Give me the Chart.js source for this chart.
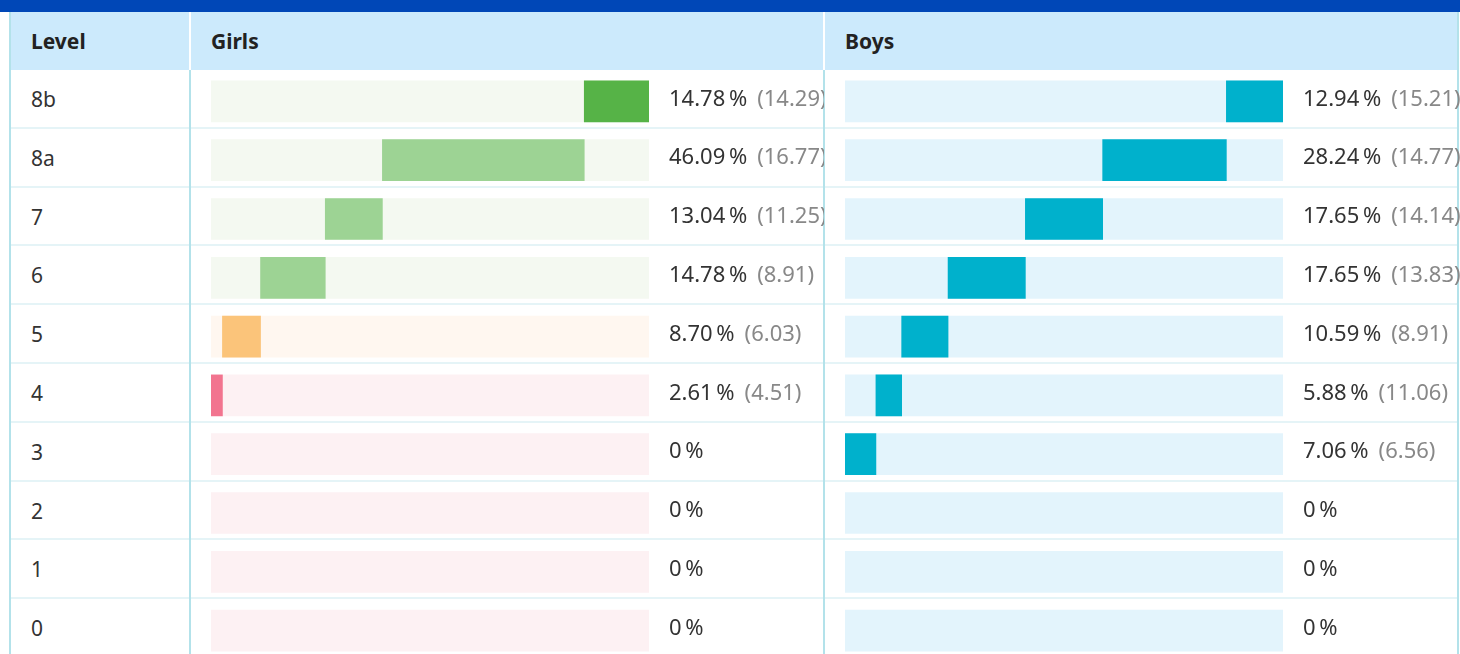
<!DOCTYPE html>
<html>
<head>
<meta charset="utf-8">
<script src="https://cdn.jsdelivr.net/npm/chart.js@4"></script>
<style>
  body { margin: 0; width: 1460px; height: 654px; overflow: hidden; background: #fff; font-family: 'Noto Sans', sans-serif; position: relative; }
  .topbar { position: absolute; left: 0; top: 0; width: 1460px; height: 12px; background: #0047b7; }
  .header { position: absolute; left: 11px; top: 12px; width: 1446px; height: 58px; background: #cceafc; }
  .header span { position: absolute; top: 0; line-height: 58px; font-weight: bold; font-size: 21px; color: #222; }
  .vline { position: absolute; top: 12px; width: 2px; height: 642px; background: #b3e2ea; }
  .vline.hd { background: #fff; height: 58px; }
  .hline { position: absolute; left: 11px; width: 1446px; height: 2px; background: #e5f4f7; }
  .lvl { position: absolute; left: 31px; font-size: 21px; color: #333; height: 58px; line-height: 58px; }
  canvas { position: absolute; }
</style>
</head>
<body>
<div class="topbar"></div>
<div class="header">
  <span style="left:20px">Level</span>
  <span style="left:200px">Girls</span>
  <span style="left:834px">Boys</span>
</div>
<div id="table"></div>
<canvas id="chart-girls" width="634" height="588" style="left:190px;top:72px"></canvas>
<canvas id="chart-boys" width="636" height="588" style="left:824px;top:72px"></canvas>
<script>
const levels = ['8b', '8a', '7', '6', '5', '4', '3', '2', '1', '0'];

const girlsPct = [14.78, 46.09, 13.04, 14.78, 8.70, 2.61, 0, 0, 0, 0];
const girlsNational = [14.29, 16.77, 11.25, 8.91, 6.03, 4.51, null, null, null, null];
const girlsBarColors = ['#56b347', '#9dd394', '#9dd394', '#9dd394', '#fbc47a', '#f2748f', '#f2748f', '#f2748f', '#f2748f', '#f2748f'];
const girlsTrackColors = ['#f4f9f1', '#f4f9f1', '#f4f9f1', '#f4f9f1', '#fff7f0', '#fdf1f3', '#fdf1f3', '#fdf1f3', '#fdf1f3', '#fdf1f3'];

const boysPct = [12.94, 28.24, 17.65, 17.65, 10.59, 5.88, 7.06, 0, 0, 0];
const boysNational = [15.21, 14.77, 14.14, 13.83, 8.91, 11.06, 6.56, null, null, null];
const boysBarColor = '#00b1cc';
const boysTrackColor = '#e3f4fc';

const rowHeight = 58.8;

// table rows
const table = document.getElementById('table');
let html = '';
levels.forEach((lvl, i) => {
  const top = 70 + i * rowHeight;
  html += `<div class="lvl" style="top:${top}px">${lvl}</div>`;
  if (i > 0) html += `<div class="hline" style="top:${top - 2}px"></div>`;
});
html += '<div class="vline" style="left:9px"></div>';
html += '<div class="vline" style="left:189px"></div>';
html += '<div class="vline" style="left:823px"></div>';
html += '<div class="vline" style="left:1457px"></div>';
html += '<div class="vline hd" style="left:189px"></div>';
html += '<div class="vline hd" style="left:823px"></div>';
table.innerHTML = html;

// stacked from the lowest level up: each bar starts where the level below ends
function floatingRanges(pct) {
  const ranges = new Array(pct.length);
  let acc = 0;
  for (let i = pct.length - 1; i >= 0; i--) {
    ranges[i] = pct[i] > 0 ? [acc, acc + pct[i]] : null;
    acc += pct[i];
  }
  return ranges;
}

function fmtPct(v) {
  return (v === 0 ? '0' : v.toFixed(2)) + '\u2009%';
}

function labelPlugin(pct, national) {
  return {
    id: 'rowLabels',
    afterDatasetsDraw(chart) {
      const ctx = chart.ctx;
      const yScale = chart.scales.y;
      const x = chart.chartArea.right + 20;
      ctx.save();
      ctx.font = '22px "Noto Sans", sans-serif';
      ctx.textBaseline = 'middle';
      pct.forEach((v, i) => {
        const y = yScale.getPixelForValue(i) - 2;
        const txt = fmtPct(v);
        ctx.fillStyle = '#333';
        ctx.fillText(txt, x, y);
        if (national[i] !== null) {
          const w = ctx.measureText(txt).width;
          ctx.fillStyle = '#888';
          ctx.fillText('(' + national[i].toFixed(2) + ')', x + w + 10, y);
        }
      });
      ctx.restore();
    },
  };
}

function renderChart(id, pct, national, barColors, trackColors, rightPad) {
  const config = {
    type: 'bar',
    data: {
      labels: levels,
      datasets: [
        {
          label: 'share',
          data: floatingRanges(pct),
          backgroundColor: barColors,
          barThickness: 41,
          grouped: false,
        },
        {
          label: 'track',
          data: levels.map(() => [0, 100]),
          backgroundColor: trackColors,
          barThickness: 41,
          grouped: false,
        },
      ],
    },
    options: {
      indexAxis: 'y',
      responsive: false,
      animation: false,
      layout: { padding: { left: 21, right: rightPad, top: 0, bottom: 0 } },
      scales: {
        x: { min: 0, max: 100, display: false },
        y: { display: false, offset: true },
      },
      plugins: {
        legend: { display: false },
        tooltip: { enabled: false },
      },
    },
    plugins: [labelPlugin(pct, national)],
  };
  new Chart(document.getElementById(id), config);
}

renderChart('chart-girls', girlsPct, girlsNational, girlsBarColors, girlsTrackColors, 175);
renderChart('chart-boys', boysPct, boysNational, boysBarColor, boysTrackColor, 177);
</script>
</body>
</html>
